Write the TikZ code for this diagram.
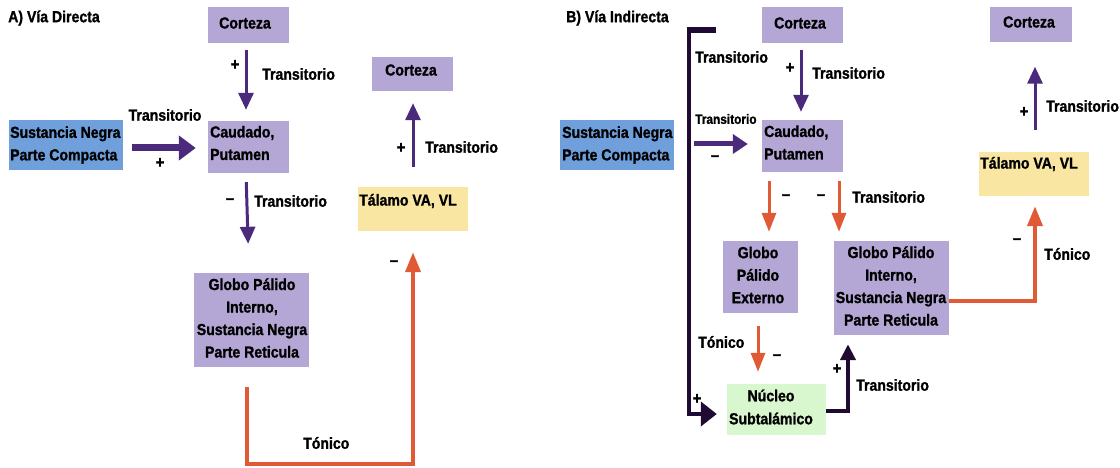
\documentclass[tikz,border=0pt]{standalone}
\usepackage{fontspec}
\setmainfont{Liberation Sans}[FakeStretch=0.88, BoldFeatures={FakeBold=1.2}]
\usetikzlibrary{arrows.meta}
\definecolor{boxpurple}{HTML}{B4A7D6}
\definecolor{boxblue}{HTML}{6FA0DC}
\definecolor{boxyellow}{HTML}{F9E6A3}
\definecolor{boxgreen}{HTML}{D9F7CE}
\definecolor{arrpurple}{HTML}{4B2A7B}
\definecolor{arrdark}{HTML}{1F0A33}
\definecolor{arrorange}{HTML}{E05A35}
\begin{document}
\begin{tikzpicture}[x=1pt,y=-1pt,
  box/.style={rectangle, draw=none, inner sep=0pt},
  pbox/.style={box, fill=boxpurple},
  bbox/.style={box, fill=boxblue},
  ybox/.style={box, fill=boxyellow},
  gbox/.style={box, fill=boxgreen},
  lbl/.style={inner sep=0pt, font=\fontsize{16}{22.5}\selectfont\bfseries},
  slbl/.style={inner sep=0pt, font=\fontsize{13.5}{16}\selectfont\bfseries},
  sgn/.style={inner sep=0pt, font=\fontsize{17}{17}\selectfont\bfseries},
  parr/.style={draw=arrpurple, line width=3pt, -{Triangle[length=17pt,width=15pt]}},
  oarr/.style={draw=arrorange, line width=3pt, -{Triangle[length=19pt,width=14pt]}},
  oarrw/.style={draw=arrorange, line width=4pt, -{Triangle[length=20pt,width=15pt]}},
  darr/.style={draw=arrdark, line width=4pt, -{Triangle[length=16pt,width=15pt]}}
]
\useasboundingbox (0,0) rectangle (1120,468);
\fill[white] (0,0) rectangle (1120,468);

% ---------------- Panel A ----------------
\node[lbl, anchor=west] (titA) at (8,18) {A) Vía Directa};

\node[pbox, minimum width=81pt, minimum height=36pt] (cA) at (248.5,25) {};
\node[lbl] (cAt) at (245,23) {Corteza};

\node[pbox, minimum width=81pt, minimum height=52pt] (caA) at (248.5,147) {};
\node[lbl, anchor=west, align=left] (caAt) at (210,143) {Caudado,\\Putamen};

\node[bbox, minimum width=114pt, minimum height=50pt] (snA) at (66,145) {};
\node[lbl, anchor=west, align=left] (snAt) at (10,145) {Sustancia Negra\\Parte Compacta};

\node[pbox, minimum width=115pt, minimum height=94pt] (gpA) at (251.5,320) {};
\node[lbl, align=center] (gpAt) at (252,318) {Globo Pálido\\Interno,\\Sustancia Negra\\Parte Reticula};

\node[ybox, minimum width=110pt, minimum height=44pt] (tA) at (413,209) {};
\node[lbl, anchor=west] (tAt) at (359,201) {Tálamo VA, VL};

\node[pbox, minimum width=81pt, minimum height=34pt] (c2A) at (412.5,74) {};
\node[lbl] (c2At) at (411,70) {Corteza};

% arrows A
\draw[parr, shorten <=7pt, shorten >=11pt] ([xshift=-2.5pt]cA.south) -- ([xshift=-2.5pt]caA.north);
\draw[draw=arrpurple, line width=7pt, -{Triangle[length=17pt,width=24pt]}, shorten <=9pt, shorten >=12pt]
  ([yshift=-3pt]snA.east) -- ([yshift=-1pt]caA.west);
\draw[parr, shorten <=9pt, shorten >=29pt] ([xshift=-2.5pt]caA.south) -- ([xshift=-2.5pt]gpA.north);
\coordinate (oA1) at (247,464);
\coordinate (oA2) at (413,464);
\draw[oarrw, shorten <=20pt, shorten >=21pt] ([xshift=-4.5pt]gpA.south) -- (oA1) -- (oA2) -- (tA.south);
\draw[parr, shorten <=20pt, shorten >=12pt] (tA.north) -- ([xshift=0.5pt]c2A.south);

% labels A
\node[sgn] (sA1) at (235,65) {+};
\node[lbl, anchor=west] (lA1) at (262,74) {Transitorio};
\node[lbl] (lA2) at (165,115) {Transitorio};
\node[sgn] (sA2) at (160,163) {+};
\node[sgn] (sA3) at (230,201) {–};
\node[lbl, anchor=west] (lA3) at (254,201) {Transitorio};
\node[sgn] (sA4) at (401,148) {+};
\node[lbl, anchor=west] (lA4) at (425,147) {Transitorio};
\node[sgn] (sA5) at (394,263) {–};
\node[lbl, anchor=west] (lA5) at (303,443) {Tónico};

% ---------------- Panel B ----------------
\node[lbl, anchor=west] (titB) at (566,18) {B) Vía Indirecta};

\node[pbox, minimum width=81pt, minimum height=36pt] (cB) at (802.5,25) {};
\node[lbl] (cBt) at (800,23) {Corteza};

\node[pbox, minimum width=81pt, minimum height=52pt] (caB) at (802.5,146) {};
\node[lbl, anchor=west, align=left] (caBt) at (764,142.5) {Caudado,\\Putamen};

\node[bbox, minimum width=114pt, minimum height=50pt] (snB) at (617,145) {};
\node[lbl, anchor=west, align=left] (snBt) at (562,145) {Sustancia Negra\\Parte Compacta};

\node[pbox, minimum width=75pt, minimum height=72pt] (gpeB) at (760.5,277) {};
\node[lbl, align=center] (gpeBt) at (758,275) {Globo\\Pálido\\Externo};

\node[pbox, minimum width=115pt, minimum height=94pt] (gpiB) at (891.5,288) {};
\node[lbl, align=center] (gpiBt) at (891,286) {Globo Pálido\\Interno,\\Sustancia Negra\\Parte Reticula};

\node[gbox, minimum width=99pt, minimum height=51pt] (nB) at (776.5,409.5) {};
\node[lbl, align=center, font=\fontsize{16}{23}\selectfont\bfseries] (nBt) at (771,407) {Núcleo\\Subtalámico};

\node[ybox, minimum width=110pt, minimum height=44pt] (tB) at (1034,174) {};
\node[lbl, anchor=west] (tBt) at (980,164) {Tálamo VA, VL};

\node[pbox, minimum width=82pt, minimum height=35pt] (c2B) at (1031,25) {};
\node[lbl] (c2Bt) at (1029,22) {Corteza};

% bracket
\coordinate (brk0) at (716,30);
\coordinate (brk1) at (689,30);
\coordinate (brk2) at (689,414);
\draw[arrdark, line width=6pt] (brk0) -- ([xshift=-2pt]brk1);
\draw[draw=arrdark, line width=4pt, -{Triangle[length=16pt,width=24pt]}, shorten >=10pt]
  ([yshift=2pt]brk1) -- (brk2) -- ([yshift=-4.5pt]nB.west);

% arrows B
\draw[parr, shorten <=7pt, shorten >=8pt] ([xshift=-1.5pt]cB.south) -- ([xshift=-1.5pt]caB.north);
\draw[draw=arrpurple, line width=5pt, -{Triangle[length=15pt,width=19pt]}, shorten <=20pt, shorten >=14pt]
  ([yshift=1pt]snB.east) -- ([yshift=2pt]caB.west);
\draw[oarr, shorten <=9pt, shorten >=9pt] ([xshift=-33.5pt]caB.south) -- ([xshift=8.5pt]gpeB.north);
\draw[oarr, shorten <=9pt, shorten >=9pt] ([xshift=36.5pt]caB.south) -- ([xshift=-52.5pt]gpiB.north);
\draw[oarr, shorten <=13pt, shorten >=12pt] ([xshift=-2.5pt]gpeB.south) -- ([xshift=-18.5pt]nB.north);
\coordinate (nk) at (848,411);
\draw[darr, shorten >=9pt] ([yshift=-1.5pt]nB.east) -- (nk) -- ([xshift=-43.5pt]gpiB.south);
\coordinate (ok) at (1035,301);
\draw[oarrw, shorten >=10pt] ([yshift=-13pt]gpiB.east) -- (ok) -- ([xshift=1pt]tB.south);
\draw[parr, shorten <=22pt, shorten >=24pt] ([xshift=1pt]tB.north) -- ([xshift=4pt]c2B.south);

% labels B
\node[lbl, anchor=west] (lB1) at (695,57) {Transitorio};
\node[slbl, anchor=west] (lB2) at (695,119) {Transitorio};
\node[sgn] (sB1) at (715,158) {–};
\node[sgn] (sB2) at (790,68) {+};
\node[lbl, anchor=west] (lB3) at (812,73) {Transitorio};
\node[sgn] (sB3) at (786,197) {–};
\node[sgn] (sB4) at (821,197) {–};
\node[lbl, anchor=west] (lB4) at (852,197) {Transitorio};
\node[sgn] (sB5) at (777,357) {–};
\node[lbl, anchor=west] (lB5) at (698,342) {Tónico};
\node[sgn] (sB6) at (697,399) {+};
\node[sgn] (sB7) at (837,369) {+};
\node[lbl, anchor=west] (lB6) at (856,385) {Transitorio};
\node[sgn] (sB8) at (1017,241) {–};
\node[lbl, anchor=west] (lB7) at (1044,254) {Tónico};
\node[sgn] (sB9) at (1024,112) {+};
\node[lbl, anchor=west] (lB8) at (1046,106) {Transitorio};
\end{tikzpicture}
\end{document}
